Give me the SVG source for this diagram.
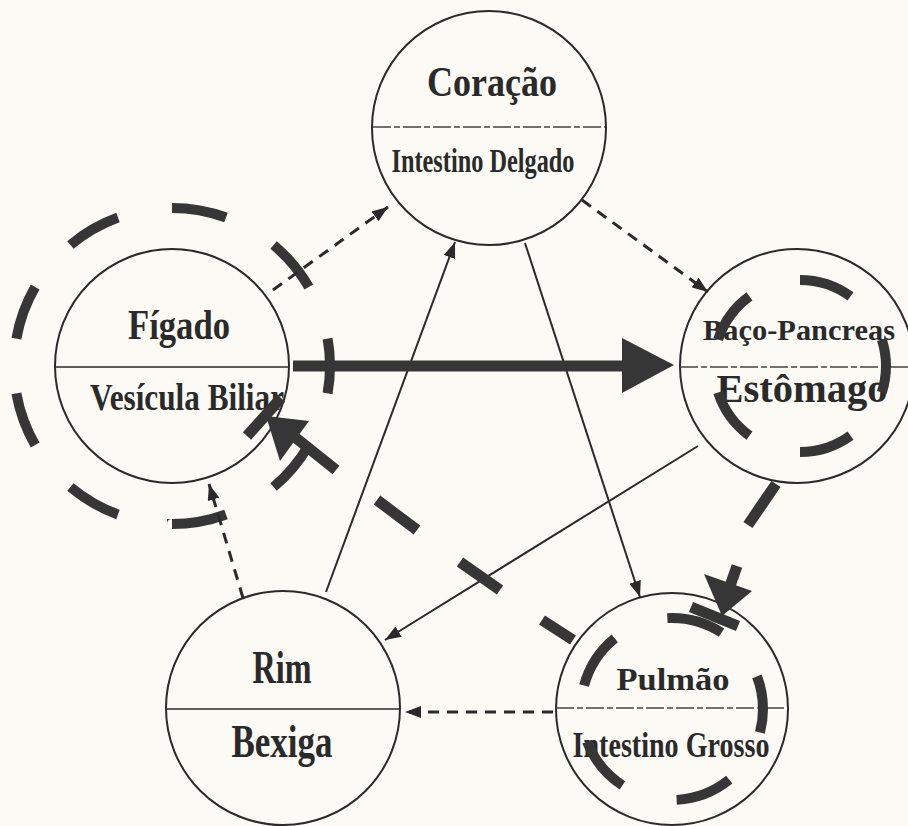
<svg xmlns="http://www.w3.org/2000/svg" width="908" height="826" viewBox="0 0 908 826">
<style>
.bg{fill:#fbfaf4}
.node circle{fill:none;stroke:#2a2a2a;stroke-width:2}
.div{stroke:#2a2a2a;stroke-width:1.6}
.faint{stroke:#444;stroke-dasharray:18 3 6 3}
.lbl{font-family:"Liberation Serif","DejaVu Serif",serif;font-weight:bold;fill:#2a2a2a;text-anchor:middle}
.thin{stroke:#2a2a2a;stroke-width:2;fill:none}
.dsh{stroke-width:3;stroke-dasharray:11 8}
.thick{stroke:#363636;stroke-width:11;fill:none}
.cross{stroke:#363636;stroke-width:11}
.head{fill:#363636}
.ring{fill:none;stroke:#363636;stroke-width:10}
</style>
<defs>
<marker id="ah" markerUnits="userSpaceOnUse" markerWidth="16" markerHeight="12" refX="16" refY="6" orient="auto">
<path d="M0,0 L16,6 L0,12 z" fill="#2a2a2a"/>
</marker>
</defs>
<rect class="bg" x="0" y="0" width="908" height="826"/>

<g id="node-coracao" class="node">
<circle cx="489" cy="128" r="117"/>
<line class="div faint" x1="373" y1="127" x2="605" y2="127"/>
<text class="lbl" x="492" y="96" font-size="42" textLength="130" lengthAdjust="spacingAndGlyphs">Coração</text>
<text class="lbl" x="483" y="172" font-size="34" textLength="183" lengthAdjust="spacingAndGlyphs">Intestino Delgado</text>
</g>

<g id="node-figado" class="node">
<circle cx="172" cy="366" r="117"/>
<line class="div" x1="55" y1="367" x2="289" y2="367"/>
<text class="lbl" x="179" y="339" font-size="43" textLength="102" lengthAdjust="spacingAndGlyphs">Fígado</text>
<text class="lbl" x="187" y="410" font-size="37" textLength="194" lengthAdjust="spacingAndGlyphs">Vesícula Biliar</text>
</g>

<g id="node-baco" class="node">
<circle cx="797" cy="366" r="117"/>
<line class="div faint" x1="680" y1="367" x2="908" y2="367"/>
<text class="lbl" x="799" y="340" font-size="30" textLength="192" lengthAdjust="spacingAndGlyphs">Baço-Pancreas</text>
<text class="lbl" x="802" y="402" font-size="40" textLength="171" lengthAdjust="spacingAndGlyphs">Estômago</text>
</g>

<g id="node-pulmao" class="node">
<circle cx="672" cy="709" r="116"/>
<line class="div faint" x1="556" y1="708" x2="788" y2="708"/>
<text class="lbl" x="673" y="690" font-size="32" textLength="113" lengthAdjust="spacingAndGlyphs">Pulmão</text>
<text class="lbl" x="671" y="757" font-size="36" textLength="197" lengthAdjust="spacingAndGlyphs">Intestino Grosso</text>
</g>

<g id="node-rim" class="node">
<circle cx="283" cy="708" r="117"/>
<line class="div" x1="166" y1="709" x2="400" y2="709"/>
<text class="lbl" x="282" y="683" font-size="46" textLength="59" lengthAdjust="spacingAndGlyphs">Rim</text>
<text class="lbl" x="282" y="757" font-size="46" textLength="101" lengthAdjust="spacingAndGlyphs">Bexiga</text>
</g>

<g id="rings">
<circle class="ring" cx="172" cy="366" r="158" pathLength="360" stroke-dasharray="20 20" stroke-dashoffset="10"/>
<circle class="ring" cx="800" cy="366" r="86" pathLength="360" stroke-dasharray="36 36" stroke-dashoffset="18"/>
<circle class="ring" cx="672" cy="709" r="91" pathLength="360" stroke-dasharray="36 36" stroke-dashoffset="21"/>
</g>

<g id="connectors">
<line class="thin dsh" x1="273" y1="290" x2="388" y2="207" marker-end="url(#ah)"/>
<line class="thin dsh" x1="582" y1="200" x2="708" y2="292" marker-end="url(#ah)"/>
<line class="thin dsh" x1="553" y1="712" x2="405" y2="712" marker-end="url(#ah)"/>
<line class="thin dsh" x1="243" y1="598" x2="209" y2="484" marker-end="url(#ah)"/>
<line class="thin" x1="326" y1="592" x2="455" y2="242" marker-end="url(#ah)"/>
<line class="thin" x1="525" y1="243" x2="640" y2="597" marker-end="url(#ah)"/>
<line class="thin" x1="698" y1="446" x2="385" y2="640" marker-end="url(#ah)"/>

<line class="thick" x1="293" y1="366" x2="626" y2="366"/>
<polygon class="head" points="622,338 674,365 622,393"/>

<path class="thick" d="M573,640 L542,620 M500,590 L460,562 M417,530 L377,500 M336,470 L296,438"/>
<polygon class="head" points="266,416 309,421 280,461"/>
<line class="cross" x1="247" y1="436" x2="281" y2="398"/>

<path class="thick" d="M776,484 L748,525 M737,566 L730,586"/>
<polygon class="head" points="704,574 752,591 722,616"/>
<line class="cross" x1="691" y1="607" x2="738" y2="626"/>
</g>
</svg>
